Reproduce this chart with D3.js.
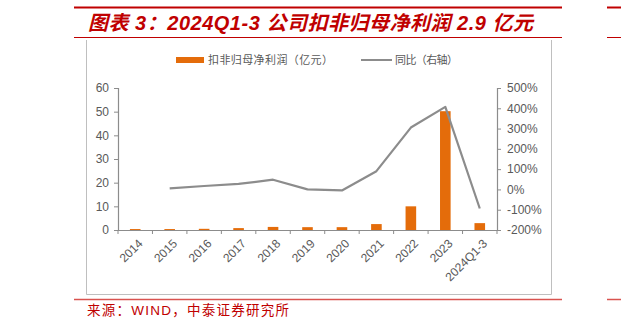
<!DOCTYPE html>
<html lang="zh">
<head>
<meta charset="utf-8">
<script src="https://d3js.org/d3.v7.min.js"></script>
<style>
  body { margin: 0; background: #fff; }
  svg { display: block; }
</style>
</head>
<body>
<script>
// data
var years = ["2014", "2015", "2016", "2017", "2018", "2019", "2020", "2021", "2022", "2023", "2024Q1-3"];
var profit = [0.4, 0.4, 0.5, 0.8, 1.3, 1.2, 1.2, 2.5, 10.0, 50.2, 2.9];      // 亿元
var yoy = [null, 5, 17, 27, 48, 0, -5, 90, 305, 407, -94];                  // %
var leftTicks = [0, 10, 20, 30, 40, 50, 60];
var rightTicks = [-200, -100, 0, 100, 200, 300, 400, 500];

var red = "#c00000", grey = "#595959", axisGrey = "#8c8c8c";

var svg = d3.select("body").append("svg")
    .attr("width", 621)
    .attr("height", 330);

// header / footer rules
svg.append("line").attr("x1", 74).attr("x2", 562).attr("y1", 7.5).attr("y2", 7.5)
   .attr("stroke", red).attr("stroke-width", 2);
svg.append("line").attr("x1", 607).attr("x2", 621).attr("y1", 7.5).attr("y2", 7.5)
   .attr("stroke", red).attr("stroke-width", 2);
svg.append("line").attr("x1", 74).attr("x2", 562).attr("y1", 37.5).attr("y2", 37.5)
   .attr("stroke", red).attr("stroke-width", 1);
svg.append("line").attr("x1", 607).attr("x2", 621).attr("y1", 37.5).attr("y2", 37.5)
   .attr("stroke", red).attr("stroke-width", 1);

svg.append("text")
   .attr("x", 88).attr("y", 30)
   .attr("fill", red)
   .attr("textLength", 445)
   .attr("lengthAdjust", "spacing")
   .style("font-family", "'Liberation Sans', 'Noto Sans CJK SC', sans-serif")
   .style("font-size", "20px")
   .style("font-weight", "bold")
   .style("font-style", "italic")
   .text("图表 3：2024Q1-3 公司扣非归母净利润 2.9 亿元");

// chart frame
svg.append("path")
   .attr("d", "M86.5,40V294.5H551.5V40")
   .attr("fill", "none").attr("stroke", "#bfbfbf").attr("stroke-width", 1);

svg.append("line").attr("x1", 74).attr("x2", 562).attr("y1", 299.5).attr("y2", 299.5)
   .attr("stroke", "#d9534f").attr("stroke-width", 1.5);
svg.append("line").attr("x1", 607).attr("x2", 621).attr("y1", 299.5).attr("y2", 299.5)
   .attr("stroke", "#d9534f").attr("stroke-width", 1.5);

svg.append("text")
   .attr("x", 87).attr("y", 315)
   .attr("fill", red)
   .attr("textLength", 202)
   .attr("lengthAdjust", "spacing")
   .style("font-family", "'Liberation Sans', 'Noto Sans CJK SC', sans-serif")
   .style("font-size", "13.5px")
   .text("来源：WIND，中泰证券研究所");

// scales
var xStep = d3.scaleBand().domain(years).range([118, 497]);
var yL = d3.scaleLinear().domain([0, 60]).range([230, 88]);
var yR = d3.scaleLinear().domain([-200, 500]).range([230, 88]);

// bars
svg.append("g").selectAll("rect")
   .data(profit)
   .join("rect")
   .attr("x", function(d, i) { return xStep(years[i]) + xStep.bandwidth() / 2 - 5.3; })
   .attr("width", 10.6)
   .attr("y", function(d) { return yL(d); })
   .attr("height", function(d) { return yL(0) - yL(d); })
   .attr("fill", "#e46c0a");

// yoy line
var line = d3.line()
    .defined(function(d) { return d != null; })
    .x(function(d, i) { return xStep(years[i]) + xStep.bandwidth() / 2; })
    .y(function(d) { return yR(d); });

svg.append("path")
   .datum(yoy)
   .attr("d", line)
   .attr("fill", "none")
   .attr("stroke", "#8c8c8c")
   .attr("stroke-width", 2.2)
   .attr("stroke-linejoin", "round");

// axes
function styleAxis(g) {
  g.selectAll(".domain").attr("stroke", axisGrey).attr("stroke-width", 1.2);
  g.selectAll(".tick line").attr("stroke", axisGrey);
  g.selectAll(".tick text").attr("fill", grey)
   .style("font-family", "'Liberation Sans', Arial, sans-serif")
   .style("font-size", "12px");
}

svg.append("g")
   .attr("transform", "translate(118,0)")
   .call(d3.axisLeft(yL).tickValues(leftTicks).tickSize(4).tickPadding(5).tickSizeOuter(4))
   .call(styleAxis);

svg.append("g")
   .attr("transform", "translate(497,0)")
   .call(d3.axisRight(yR).tickValues(rightTicks).tickSize(4).tickPadding(6).tickSizeOuter(4)
         .tickFormat(function(d) { return d + "%"; }))
   .call(styleAxis);

var xa = svg.append("g")
   .attr("transform", "translate(0,230)")
   .call(d3.axisBottom(xStep).tickSize(0).tickSizeOuter(0))
   .call(styleAxis);
xa.selectAll(".tick text")
   .attr("text-anchor", "end")
   .attr("dy", null)
   .attr("transform", "translate(2,8) rotate(-45)")
   .attr("y", 0).attr("x", 0)
   .attr("dominant-baseline", "hanging");
// tick marks at band boundaries
xa.selectAll(".sep")
   .data(d3.range(years.length + 1))
   .join("line")
   .attr("class", "sep")
   .attr("x1", function(i) { return 118 + i * xStep.step(); })
   .attr("x2", function(i) { return 118 + i * xStep.step(); })
   .attr("y1", 0).attr("y2", 4)
   .attr("stroke", axisGrey);

// legend
var leg = svg.append("g")
   .style("font-family", "'Noto Sans CJK SC', sans-serif")
   .style("font-size", "11px")
   .attr("fill", grey);
leg.append("rect").attr("x", 176).attr("y", 57).attr("width", 28).attr("height", 6).attr("fill", "#e46c0a");
leg.append("text").attr("x", 208).attr("y", 64).attr("textLength", 125).attr("lengthAdjust", "spacing")
   .text("扣非归母净利润（亿元）");
leg.append("line").attr("x1", 361).attr("x2", 392).attr("y1", 60).attr("y2", 60)
   .attr("stroke", "#8c8c8c").attr("stroke-width", 2);
leg.append("text").attr("x", 395).attr("y", 64).attr("textLength", 63).attr("lengthAdjust", "spacing")
   .text("同比（右轴）");
</script>
</body>
</html>
